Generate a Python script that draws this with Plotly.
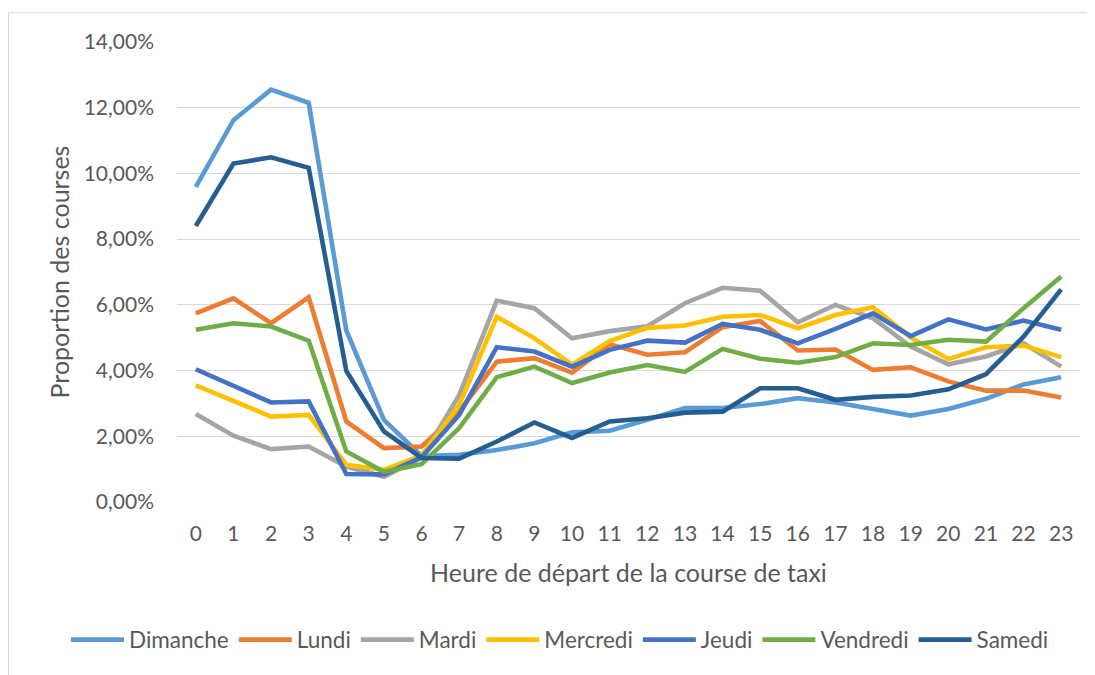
import plotly.graph_objects as go

hours = list(range(24))
hour_labels = [str(h) for h in hours]
yticks = [0, 2, 4, 6, 8, 10, 12, 14]
ytick_labels = ["0,00%", "2,00%", "4,00%", "6,00%", "8,00%", "10,00%", "12,00%", "14,00%"]

dimanche = [9.59, 11.62, 12.55, 12.15, 5.22, 2.50, 1.40, 1.44, 1.58, 1.79, 2.12, 2.17, 2.50, 2.86, 2.86, 2.98, 3.16, 3.03, 2.83, 2.63, 2.83, 3.14, 3.58, 3.80]
lundi = [5.74, 6.20, 5.44, 6.23, 2.45, 1.64, 1.69, 2.75, 4.27, 4.38, 3.94, 4.80, 4.48, 4.56, 5.32, 5.51, 4.61, 4.64, 4.02, 4.10, 3.67, 3.39, 3.39, 3.18]
mardi = [2.68, 2.02, 1.61, 1.69, 1.08, 0.77, 1.35, 3.25, 6.13, 5.90, 4.98, 5.20, 5.35, 6.05, 6.52, 6.43, 5.47, 6.00, 5.59, 4.73, 4.19, 4.43, 4.83, 4.12]
mercredi = [3.55, 3.08, 2.60, 2.65, 1.13, 0.98, 1.42, 2.95, 5.64, 4.98, 4.18, 4.90, 5.30, 5.37, 5.64, 5.69, 5.29, 5.69, 5.93, 5.01, 4.35, 4.71, 4.76, 4.41]
jeudi = [4.04, 3.52, 3.03, 3.06, 0.85, 0.84, 1.36, 2.65, 4.71, 4.58, 4.12, 4.63, 4.91, 4.85, 5.42, 5.24, 4.83, 5.27, 5.74, 5.05, 5.56, 5.25, 5.52, 5.24]
vendredi = [5.24, 5.44, 5.34, 4.91, 1.54, 0.92, 1.15, 2.25, 3.80, 4.12, 3.62, 3.94, 4.17, 3.96, 4.66, 4.36, 4.24, 4.41, 4.83, 4.78, 4.94, 4.88, 5.90, 6.86]
samedi = [8.40, 10.30, 10.49, 10.17, 3.99, 2.15, 1.34, 1.32, 1.84, 2.42, 1.95, 2.45, 2.55, 2.72, 2.75, 3.46, 3.46, 3.11, 3.20, 3.24, 3.43, 3.89, 5.03, 6.47]

series = [
    ("Dimanche", dimanche, "#5B9BD5"),
    ("Lundi", lundi, "#ED7D31"),
    ("Mardi", mardi, "#A5A5A5"),
    ("Mercredi", mercredi, "#FFC000"),
    ("Jeudi", jeudi, "#4472C4"),
    ("Vendredi", vendredi, "#70AD47"),
    ("Samedi", samedi, "#255E91"),
]

FONT = "Lato"
TXT = "#595959"

# page body has an 8px margin, so figure coordinates are offset by 8px
L, T, PW, PH = 169, 34, 903, 460

fig = go.Figure()
for name, vals, col in series:
    fig.add_trace(go.Scatter(x=hours, y=vals, mode="lines", name=name,
                             line=dict(color=col, width=4.6)))

fig.update_layout(
    width=1095, height=675,
    margin=dict(l=L, r=1095 - L - PW, t=T, b=675 - T - PH, autoexpand=False),
    paper_bgcolor="white", plot_bgcolor="white",
    font=dict(family=FONT, color=TXT, size=21),
    showlegend=True,
    legend=dict(orientation="h", xref="paper", yref="paper",
                x=(58 - L) / PW, y=(T + PH - 632) / PH,
                xanchor="left", yanchor="middle",
                font=dict(family=FONT, size=22.5, color=TXT),
                itemwidth=53, tracegroupgap=0),
    shapes=[dict(type="rect", xref="paper", yref="paper",
                 x0=(0.5 - L) / PW, x1=(1110 - L) / PW,
                 y0=(T + PH - 700) / PH, y1=(T + PH - 4.7) / PH,
                 line=dict(color="#D9D9D9", width=1), fillcolor="rgba(0,0,0,0)",
                 layer="below")],
)

fig.update_xaxes(
    range=[-0.5, 23.5], tickvals=hours, ticktext=hour_labels,
    showgrid=False, zeroline=False, showline=False, ticks="",
    automargin=False, ticklabelstandoff=17,
    tickfont=dict(family=FONT, size=21, color=TXT),
    title=dict(text="Heure de départ de la course de taxi",
               font=dict(family=FONT, size=25, color=TXT), standoff=20),
)
fig.update_yaxes(
    range=[0, 14], tickvals=yticks, ticktext=ytick_labels,
    showgrid=True, gridcolor="#D9D9D9", gridwidth=1.3, zeroline=False,
    showline=False, ticks="", ticklabelstandoff=22, automargin=False,
    tickfont=dict(family=FONT, size=21, color=TXT),
    title=dict(text="Proportion des courses",
               font=dict(family=FONT, size=25, color=TXT), standoff=6),
)

fig.write_html("out.html")
